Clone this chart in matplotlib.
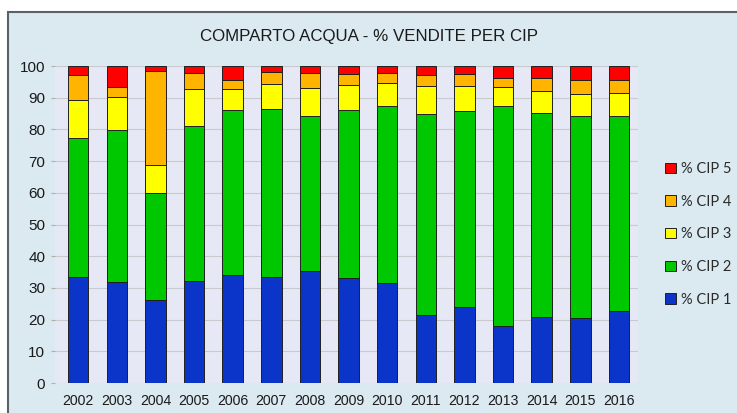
import matplotlib.pyplot as plt
import numpy as np
from matplotlib.patches import Rectangle

# data (% of sales per CIP class)
years = ['2002', '2003', '2004', '2005', '2006', '2007', '2008', '2009',
         '2010', '2011', '2012', '2013', '2014', '2015', '2016']
cip1 = [33.4, 31.8, 26.2, 32.2, 34.1, 33.3, 35.4, 33.2, 31.7, 21.5, 23.9, 18.0, 20.7, 20.4, 22.6]
cip2 = [44.0, 47.9, 33.6, 48.9, 51.9, 53.1, 48.9, 53.1, 55.6, 63.3, 61.8, 69.3, 64.6, 63.9, 61.7]
cip3 = [11.8, 10.5, 8.9, 11.8, 6.7, 8.0, 8.9, 7.8, 7.5, 8.8, 8.0, 6.1, 6.8, 7.0, 7.3]
cip4 = [7.9, 3.2, 29.9, 5.0, 3.0, 3.7, 4.7, 3.5, 3.0, 3.6, 3.7, 2.9, 4.1, 4.4, 3.9]
cip5 = [2.9, 6.6, 1.4, 2.1, 4.3, 1.9, 2.1, 2.4, 2.2, 2.8, 2.6, 3.7, 3.8, 4.3, 4.5]

series = [('% CIP 1', cip1, '#0a35c8'),
          ('% CIP 2', cip2, '#00c800'),
          ('% CIP 3', cip3, '#ffff00'),
          ('% CIP 4', cip4, '#ffb400'),
          ('% CIP 5', cip5, '#ff0000')]

fig = plt.figure(figsize=(7.37, 4.13), dpi=100, facecolor='white')
# chart frame
fig.patches.append(Rectangle((8 / 737, -0.05), 1.0, 1 - 12 / 413 + 0.05,
                             transform=fig.transFigure, facecolor='#dbe9f1',
                             edgecolor='#5a6266', linewidth=1.5, zorder=-5))

ax = fig.add_axes([0.0746, 0.0726, 0.7914, 0.7674])
ax.set_facecolor('#e6e9f5')

x = np.arange(len(years))
bottom = np.zeros(len(years))
handles = []
for name, vals, col in series:
    b = ax.bar(x, vals, width=0.53, bottom=bottom, color=col,
               edgecolor='#202020', linewidth=0.7, label=name, zorder=3)
    bottom += np.array(vals)
    handles.append(b)

ax.set_xlim(-0.6, 14.5)
ax.set_ylim(0, 100)
ax.set_yticks(range(0, 101, 10))
ax.set_xticks(x)
ax.set_xticklabels(years)
ax.yaxis.grid(True, color='#c8cad0', linewidth=0.8, zorder=0)
for s in ax.spines.values():
    s.set_visible(False)
ax.tick_params(axis='y', length=3, color='#b0b0b0', labelsize=11, pad=4)
ax.tick_params(axis='x', length=0, labelsize=10.2, pad=8)
for lbl in ax.get_xticklabels() + ax.get_yticklabels():
    lbl.set_family('Liberation Sans')
    lbl.set_color('#1a1a1a')

fig.text(0.5, 0.912, 'COMPARTO ACQUA - % VENDITE PER CIP', ha='center', va='center',
         fontsize=12.2, family='Liberation Sans', color='#1a1a1a')

leg = fig.legend(handles[::-1], [s[0] for s in series][::-1],
                 loc='center left', bbox_to_anchor=(0.885, 0.433),
                 frameon=False, prop={'family': 'Lato', 'size': 10.5},
                 handlelength=0.7, handleheight=0.7, handletextpad=0.4,
                 labelspacing=1.28)
for t in leg.get_texts():
    t.set_color('#2a2a2a')

fig.savefig('out.png', dpi=100, facecolor='white')
